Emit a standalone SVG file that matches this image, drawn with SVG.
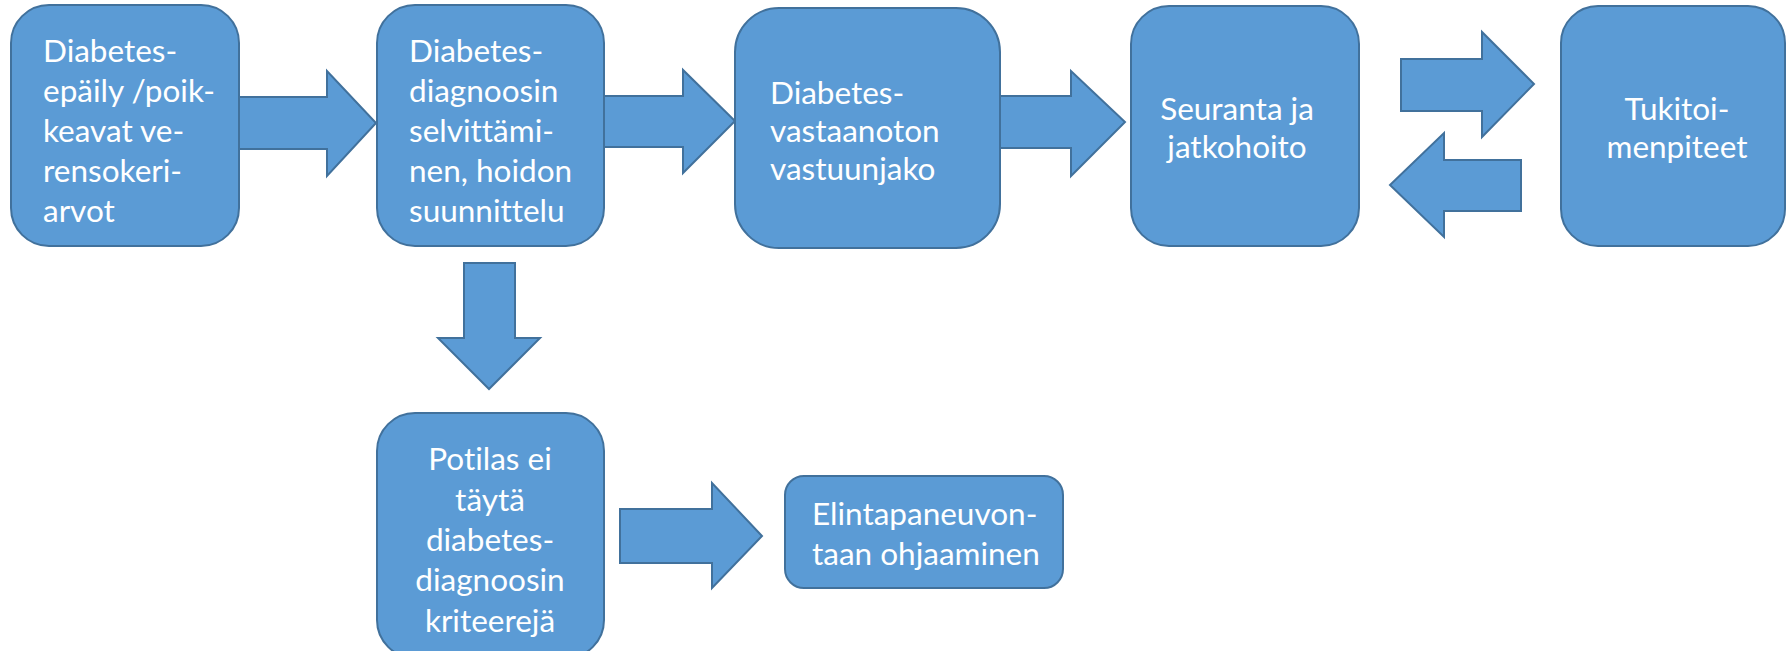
<svg xmlns="http://www.w3.org/2000/svg" width="1787" height="651" viewBox="0 0 1787 651">
<style>
.box{fill:#5B9BD5;stroke:#41719C;stroke-width:2}
.arr{fill:#5B9BD5;stroke:#41719C;stroke-width:2;stroke-linejoin:miter}
text{font-family:Lato,"Open Sans","Liberation Sans",sans-serif;font-size:31.5px;fill:#FFFFFF;font-variant-ligatures:none}
.c{text-anchor:middle}
</style>
<rect width="1787" height="651" fill="#FFFFFF"/>
<g id="connectors">
<polygon class="arr" points="239,97 327,97 327,71 376,123 327,176 327,149 239,149"/>
<polygon class="arr" points="604,96 683,96 683,70 735,121 683,173 683,147 604,147"/>
<polygon class="arr" points="1000,96 1071,96 1071,71 1125,122 1071,176 1071,148 1000,148"/>
<polygon class="arr" points="1401,59 1482,59 1482,32 1534,84 1482,137 1482,111 1401,111"/>
<polygon class="arr" points="1521,160 1444,160 1444,133 1390,185 1444,237 1444,211 1521,211"/>
<polygon class="arr" points="464,263 515,263 515,338 540,338 489,389 438,338 464,338"/>
<polygon class="arr" points="620,509 712,509 712,483 762,536 712,588 712,563 620,563"/>
</g>
<g id="n1">
<rect class="box" x="11" y="5" width="228" height="241" rx="38" ry="38"/>
<text x="43" y="62">Diabetes-</text>
<text x="43" y="102">epäily /poik-</text>
<text x="43" y="142">keavat ve-</text>
<text x="43" y="182">rensokeri-</text>
<text x="43" y="222">arvot</text>
</g>
<g id="n2">
<rect class="box" x="377" y="5" width="227" height="241" rx="38" ry="38"/>
<text x="409" y="62">Diabetes-</text>
<text x="409" y="102">diagnoosin</text>
<text x="409" y="142">selvittämi-</text>
<text x="409" y="182">nen, hoidon</text>
<text x="409" y="222">suunnittelu</text>
</g>
<g id="n3">
<rect class="box" x="735" y="8" width="265" height="240" rx="44" ry="44"/>
<text x="770" y="104">Diabetes-</text>
<text x="770" y="142">vastaanoton</text>
<text x="770" y="180">vastuunjako</text>
</g>
<g id="n4">
<rect class="box" x="1131" y="6" width="228" height="240" rx="38" ry="38"/>
<text class="c" x="1237" y="120">Seuranta ja</text>
<text class="c" x="1237" y="158">jatkohoito</text>
</g>
<g id="n5">
<rect class="box" x="1561" y="6" width="224" height="240" rx="37" ry="37"/>
<text class="c" x="1677" y="120">Tukitoi-</text>
<text class="c" x="1677" y="158">menpiteet</text>
</g>
<g id="n6">
<rect class="box" x="377" y="413" width="227" height="245" rx="38" ry="38"/>
<text class="c" x="490" y="470">Potilas ei</text>
<text class="c" x="490" y="511">täytä</text>
<text class="c" x="490" y="551">diabetes-</text>
<text class="c" x="490" y="591">diagnoosin</text>
<text class="c" x="490" y="632">kriteerejä</text>
</g>
<g id="n7">
<rect class="box" x="785" y="476" width="278" height="112" rx="19" ry="19"/>
<text x="812" y="525">Elintapaneuvon-</text>
<text x="812" y="565">taan ohjaaminen</text>
</g>
</svg>
